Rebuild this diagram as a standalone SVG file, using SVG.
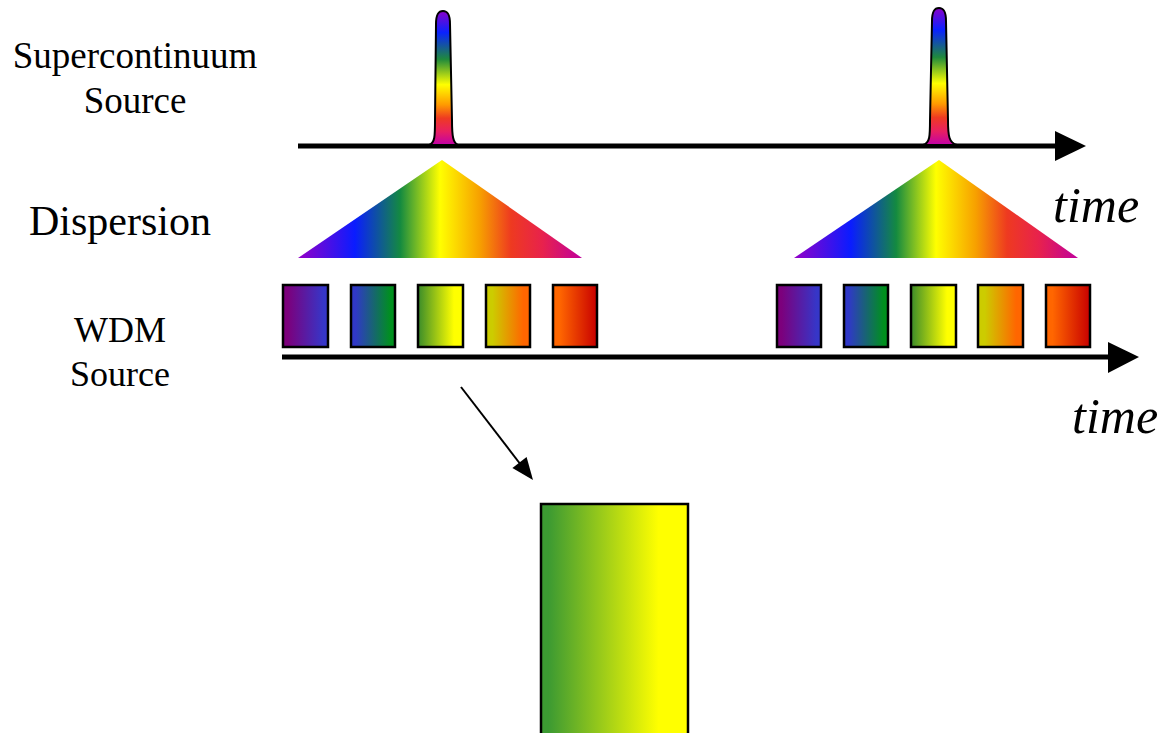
<svg xmlns="http://www.w3.org/2000/svg" width="1165" height="733" viewBox="0 0 1165 733">
<style>
text{font-family:"Liberation Serif","Times New Roman",Times,serif;fill:#000}
.lbl{text-anchor:middle}
.tm{font-style:italic}
.box{stroke:#000;stroke-width:2.5}
.pulse{stroke:#000;stroke-width:2;fill:url(#gPulse)}
.axis{stroke:#000;stroke-width:5;fill:none}
</style>
<defs>
<linearGradient id="gPulse" x1="0" y1="0" x2="0" y2="1">
<stop offset="0" stop-color="#8a00c8"/>
<stop offset="0.16" stop-color="#0a22ff"/>
<stop offset="0.36" stop-color="#1f8a3c"/>
<stop offset="0.55" stop-color="#ffff00"/>
<stop offset="0.7" stop-color="#ff9a00"/>
<stop offset="0.8" stop-color="#ee3a22"/>
<stop offset="0.9" stop-color="#e81f62"/>
<stop offset="1" stop-color="#c000a8"/>
</linearGradient>
<linearGradient id="gTri" x1="0" y1="0" x2="1" y2="0">
<stop offset="0" stop-color="#9400c8"/>
<stop offset="0.2" stop-color="#0a1cff"/>
<stop offset="0.36" stop-color="#148a40"/>
<stop offset="0.5" stop-color="#ffff00"/>
<stop offset="0.64" stop-color="#f7a000"/>
<stop offset="0.75" stop-color="#ee3a20"/>
<stop offset="0.86" stop-color="#e8224c"/>
<stop offset="1" stop-color="#c0009c"/>
</linearGradient>
<linearGradient id="gB1" x1="0" y1="0" x2="1" y2="0"><stop offset="0.1" stop-color="#7c007c"/><stop offset="0.9" stop-color="#3636c8"/></linearGradient>
<linearGradient id="gB2" x1="0" y1="0" x2="1" y2="0"><stop offset="0.1" stop-color="#3038c8"/><stop offset="0.9" stop-color="#00901e"/></linearGradient>
<linearGradient id="gB3" x1="0" y1="0" x2="1" y2="0"><stop offset="0" stop-color="#3a8c2a"/><stop offset="0.8" stop-color="#ffff00"/></linearGradient>
<linearGradient id="gB4" x1="0" y1="0" x2="1" y2="0"><stop offset="0.15" stop-color="#cccc00"/><stop offset="0.85" stop-color="#ff6600"/></linearGradient>
<linearGradient id="gB5" x1="0" y1="0" x2="1" y2="0"><stop offset="0.15" stop-color="#ff6600"/><stop offset="1" stop-color="#c80000"/></linearGradient>
<linearGradient id="gBig" x1="0" y1="0" x2="1" y2="0"><stop offset="0.05" stop-color="#3c9a32"/><stop offset="0.8" stop-color="#ffff00"/></linearGradient>
</defs>
<rect width="1165" height="733" fill="#fff"/>

<g id="labels">
<text class="lbl" x="135" y="68" font-size="37">Supercontinuum</text>
<text class="lbl" x="135" y="113" font-size="37">Source</text>
<text class="lbl" x="120" y="235" font-size="42">Dispersion</text>
<text class="lbl" x="120" y="342" font-size="36">WDM</text>
<text class="lbl" x="120" y="386" font-size="36">Source</text>
<text class="tm" x="1053" y="222" font-size="50">time</text>
<text class="tm" x="1072" y="433" font-size="50">time</text>
</g>

<g id="connectors">
<line class="axis" x1="298" y1="146" x2="1060" y2="146"/>
<polygon points="1055,131 1086,146 1055,161" fill="#000"/>
<line class="axis" x1="282" y1="357" x2="1112" y2="357"/>
<polygon points="1108,342 1139,357 1108,373" fill="#000"/>
<line x1="461" y1="387" x2="521" y2="465" stroke="#000" stroke-width="2"/>
<polygon points="533,480 526.6,457.1 512.4,468.1" fill="#000"/>
</g>

<g id="pulse1">
<path class="pulse" d="M429,145 C435,143 435,136 435,120 L436,24 C436,13 439,11 443,11 C447,11 450,13 450,24 L452,120 C452,136 453,143 458,145 Z"/>
</g>
<g id="pulse2">
<path class="pulse" d="M923,145 C930,143 930,136 930,120 L932,21 C932,10 935,8 939,8 C943,8 946,10 946,21 L948,120 C948,136 949,143 957,145 Z"/>
</g>

<g id="dispersion1">
<polygon points="442,160 582,258 298,258" fill="url(#gTri)"/>
</g>
<g id="dispersion2">
<polygon points="939,160 1078,258 794,258" fill="url(#gTri)"/>
</g>

<g id="wdm1">
<rect class="box" x="283" y="285" width="45" height="62" fill="url(#gB1)"/>
<rect class="box" x="351" y="285" width="44" height="62" fill="url(#gB2)"/>
<rect class="box" x="418" y="285" width="45" height="62" fill="url(#gB3)"/>
<rect class="box" x="486" y="285" width="44" height="62" fill="url(#gB4)"/>
<rect class="box" x="553" y="285" width="44" height="62" fill="url(#gB5)"/>
</g>
<g id="wdm2">
<rect class="box" x="777" y="285" width="44" height="62" fill="url(#gB1)"/>
<rect class="box" x="844" y="285" width="44" height="62" fill="url(#gB2)"/>
<rect class="box" x="911" y="285" width="45" height="62" fill="url(#gB3)"/>
<rect class="box" x="978" y="285" width="45" height="62" fill="url(#gB4)"/>
<rect class="box" x="1046" y="285" width="44" height="62" fill="url(#gB5)"/>
</g>

<g id="channel">
<rect class="box" x="541" y="504" width="147" height="240" fill="url(#gBig)"/>
</g>
</svg>
